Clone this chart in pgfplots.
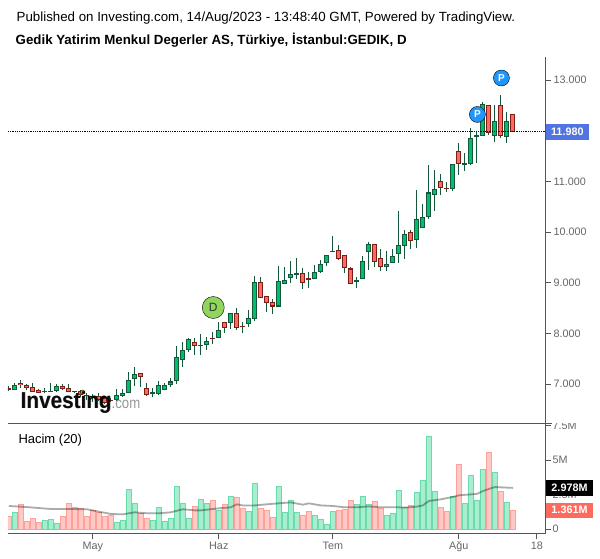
\documentclass[border=0pt]{standalone}
\usepackage{pgfplots}
\usepackage{pgfplotstable}
\usepackage{fontspec}
\setmainfont{Liberation Sans}
\pgfplotsset{compat=1.18}
\definecolor{upfill}{HTML}{00BF6C}
\definecolor{upedge}{HTML}{14573A}
\definecolor{dnfill}{HTML}{FF6A5E}
\definecolor{dnedge}{HTML}{7A1E16}
\definecolor{axisgr}{HTML}{555555}
\definecolor{labgr}{HTML}{666666}
\definecolor{vgfill}{HTML}{A8EDCD}
\definecolor{vgedge}{HTML}{6ADCAC}
\definecolor{vrfill}{HTML}{FFC9C6}
\definecolor{vredge}{HTML}{FFA09A}
\definecolor{dgreen}{HTML}{8FD65C}
\definecolor{pblue}{HTML}{1E96FC}
\definecolor{lastblue}{HTML}{5274E0}
\definecolor{earn}{HTML}{F5A623}
\pgfplotstableread{
i h t b l
1 7.03 6.98 6.89 6.88
6 6.92 6.86 6.84 6.82
7 7.02 6.87 6.85 6.84
8 7.00 6.96 6.87 6.85
18 6.90 6.78 6.68 6.67
19 6.90 6.82 6.77 6.75
20 7.23 7.07 6.82 6.82
21 7.33 7.19 7.09 6.97
24 6.93 6.84 6.80 6.75
25 7.05 6.98 6.80 6.78
26 7.03 6.98 6.89 6.88
27 7.12 7.05 6.99 6.95
28 7.75 7.53 7.05 7.00
29 7.83 7.67 7.48 7.34
30 7.91 7.88 7.68 7.64
32 7.99 7.78 7.76 7.57
33 7.93 7.84 7.77 7.68
35 8.22 8.06 7.91 7.90
37 8.40 8.40 8.21 8.09
40 8.46 8.30 8.19 8.13
41 9.13 9.01 8.29 8.24
45 9.33 9.03 8.53 8.53
46 9.31 9.05 8.98 8.98
47 9.43 9.17 9.10 9.00
48 9.49 9.19 9.16 9.07
51 9.35 9.22 9.07 9.07
52 9.45 9.36 9.22 9.19
53 9.55 9.54 9.39 9.33
54 9.92 9.63 9.61 9.61
58 9.11 9.05 9.02 8.90
59 9.53 9.42 9.08 9.08
60 9.80 9.76 9.61 9.26
63 9.63 9.36 9.30 9.23
64 9.67 9.52 9.39 9.39
65 10.42 9.74 9.57 9.39
66 10.04 9.97 9.73 9.47
68 10.83 10.25 9.85 9.69
69 10.55 10.29 10.07 10.07
70 11.32 10.78 10.30 10.26
71 11.22 10.84 10.73 10.41
74 11.34 11.34 10.84 10.81
76 11.56 11.36 11.33 11.21
77 12.05 11.85 11.35 11.33
78 12.00 11.91 11.87 11.37
79 12.57 12.52 11.90 11.90
81 12.50 12.20 11.90 11.78
83 12.37 12.20 11.88 11.76
}\upcandles
\pgfplotstableread{
i h t b l
0 6.97 6.92 6.88 6.87
2 7.07 7.03 6.98 6.93
3 7.01 6.98 6.93 6.88
4 7.03 6.94 6.85 6.85
5 6.91 6.88 6.83 6.82
9 7.01 6.96 6.91 6.88
10 7.00 6.92 6.85 6.84
11 6.86 6.86 6.84 6.82
12 6.88 6.86 6.78 6.75
13 6.82 6.78 6.76 6.69
14 6.80 6.76 6.74 6.65
15 6.82 6.77 6.69 6.67
16 6.76 6.72 6.62 6.61
17 6.73 6.69 6.67 6.65
22 7.22 7.21 7.13 6.95
23 7.03 6.92 6.78 6.77
31 7.90 7.82 7.76 7.57
34 8.03 7.90 7.88 7.79
36 8.22 8.22 8.11 8.01
38 8.50 8.40 8.11 8.07
39 8.22 8.15 8.13 8.01
42 9.11 9.01 8.69 8.69
43 8.73 8.73 8.60 8.42
44 8.68 8.61 8.53 8.38
49 9.29 9.19 9.00 8.88
50 9.21 9.10 9.06 8.90
55 9.74 9.64 9.47 9.45
56 9.54 9.54 9.28 9.19
57 9.30 9.28 8.98 8.98
61 9.76 9.76 9.41 9.30
62 9.67 9.48 9.30 9.24
67 10.04 10.01 9.83 9.66
72 11.14 11.00 10.86 10.73
73 10.99 10.87 10.84 10.79
75 11.76 11.59 11.35 11.13
80 12.50 12.50 11.95 11.92
82 12.70 12.50 11.90 11.86
84 12.32 12.32 11.98 11.98
}\dncandles
\pgfplotstableread{
i v
1 1.21
6 0.63
7 0.70
8 0.41
18 0.48
19 0.63
20 2.87
21 1.86
24 0.63
25 1.57
26 0.56
27 0.77
28 3.09
29 1.86
30 0.77
32 2.15
33 1.86
35 1.35
37 2.37
40 1.28
41 3.31
45 3.09
46 1.21
47 2.08
48 1.21
51 0.99
52 0.70
53 0.34
54 1.28
58 1.79
59 2.37
60 1.79
63 0.99
64 1.14
65 2.80
66 1.57
68 2.66
69 3.53
70 6.71
71 2.73
74 2.37
76 1.86
77 3.89
78 2.08
79 4.32
81 4.11
83 1.93
}\upvol
\pgfplotstableread{
i v
0 0.87
2 1.79
3 0.56
4 0.77
5 0.48
9 0.92
10 1.86
11 1.57
12 1.50
13 0.92
14 1.35
15 1.21
16 0.92
17 0.99
22 1.14
23 0.77
31 1.64
34 2.08
36 1.79
38 2.29
39 1.50
42 1.50
43 1.35
44 0.85
49 0.99
50 1.28
55 1.35
56 1.43
57 2.08
61 2.00
62 1.50
67 1.71
72 1.57
73 1.28
75 4.69
80 5.56
82 2.73
84 1.36
}\dnvol
\pgfplotstableread{
i v
0 1.67
3 1.59
5 1.52
7 1.45
10 1.45
13 1.43
15 1.26
17 1.09
19 1.06
20 1.14
21 1.21
23 1.14
25 1.14
27 1.21
29 1.43
31 1.35
32 1.35
35 1.50
37 1.57
38 1.79
39 1.71
41 1.71
43 1.79
45 1.86
47 1.93
49 1.76
50 1.86
52 1.71
54 1.67
56 1.57
58 1.57
60 1.64
62 1.57
65 1.57
66 1.55
68 1.62
69 1.71
70 2.03
72 2.15
74 2.32
75 2.44
77 2.51
78 2.54
79 2.75
80 2.90
81 3.04
84 2.98
}\smavol
\newcommand\wicks[1]{%
\addplot[draw=none, mark=none, forget plot, error bars/.cd, y dir=plus, y explicit, error mark=none,
  error bar style={draw=upedge, line width=1pt}]
  table[x=i, y=l, y error plus expr={\thisrow{h}-\thisrow{l}}] {#1};}
\newcommand\bodies[3]{%
\addplot[draw=none, mark=none, forget plot, error bars/.cd, y dir=plus, y explicit, error mark=none,
  error bar style={draw=#3, line width=5.2pt}]
  table[x=i, y=b, y error plus expr={\thisrow{t}-\thisrow{b}}] {#1};
\addplot[draw=none, mark=none, forget plot, error bars/.cd, y dir=plus, y explicit, error mark=none,
  error bar style={draw=#2, line width=3.2pt}]
  table[x=i, y expr={\thisrow{b}+0.02}, y error plus expr={max(\thisrow{t}-\thisrow{b}-0.04,0)}] {#1};}
\begin{document}
\begin{tikzpicture}[x=1pt,y=1pt]
\fill[white] (0,0) rectangle (600,558);
\node[anchor=base west, inner sep=0pt, text=black] at (16.5,536.3) {\fontsize{13.3}{15}\selectfont Published on Investing.com, 14/Aug/2023 - 13:48:40 GMT, Powered by TradingView.};
\node[anchor=base west, inner sep=0pt, text=black] at (15.5,513.7) {\fontsize{13.3}{15}\selectfont\bfseries Gedik Yatirim Menkul Degerler AS, Türkiye, İstanbul:GEDIK, D};
% price pane
\begin{axis}[at={(8pt,134.7pt)}, anchor=south west, scale only axis, width=537.5pt, height=366.3pt,
  xmin=-0.133, xmax=89.45, ymin=6.225, ymax=13.454,
  axis line style={draw=none}, xtick=\empty,
  ytick={7,8,9,10,11,12,13}, yticklabels={7.000,8.000,9.000,10.000,11.000,,13.000},
  ytick pos=right, yticklabel pos=right, tick align=outside, major tick length=5pt,
  tick style={draw=axisgr, line width=1pt},
  yticklabel style={font=\fontsize{10.8}{13}\selectfont, text=labgr, inner sep=0pt, xshift=3pt}]
\wicks{\upcandles}
\wicks{\dncandles}
\bodies{\upcandles}{upfill}{upedge}
\bodies{\dncandles}{dnfill}{dnedge}
\addplot[only marks, mark=*, mark size=2.2pt, forget plot, mark options={fill=earn, draw=none}] coordinates {(12.3,6.84)};
\addplot[forget plot, draw=blue!40!black, line width=0.8pt, densely dotted] coordinates {(-0.133,11.98) (89.45,11.98)};
\addplot[only marks, mark=*, mark size=11pt, forget plot, mark options={fill=dgreen, draw=none},
  nodes near coords={D}, every node near coord/.append style={anchor=center, inner sep=0pt, font=\fontsize{12}{14}\selectfont, text=black!80}] coordinates {(34.08,8.51)};
\addplot[only marks, mark=*, mark size=8pt, forget plot, mark options={fill=pblue, draw=none},
  nodes near coords={P}, every node near coord/.append style={anchor=center, inner sep=0pt, font=\fontsize{10}{12}\selectfont\bfseries, text=white}] coordinates {(78.1,12.32) (82.1,13.04)};
\end{axis}
% volume pane
\begin{axis}[at={(8pt,24.2pt)}, anchor=south west, scale only axis, width=537.5pt, height=110.5pt,
  xmin=-0.133, xmax=89.45, ymin=-0.348, ymax=7.66,
  axis line style={draw=none},
  xtick={14,35,54,75,88}, xticklabels={May,Haz,Tem,Ağu,18},
  xtick pos=bottom, xticklabel pos=bottom,
  ytick={0,2.5,5,7.5}, yticklabels={0,2.5M,5M,7.5M},
  ytick pos=right, yticklabel pos=right, tick align=outside, major tick length=5pt,
  tick style={draw=axisgr, line width=1pt},
  xticklabel style={font=\fontsize{10.8}{13}\selectfont, text=labgr, inner sep=0pt, yshift=-3pt},
  yticklabel style={font=\fontsize{10.8}{13}\selectfont, text=labgr, inner sep=0pt, xshift=2pt}]
\addplot[ybar, bar width=5pt, bar shift=0pt, fill=vgfill, draw=vgedge, line width=1pt, forget plot] table[x=i,y=v] {\upvol};
\addplot[ybar, bar width=5pt, bar shift=0pt, fill=vrfill, draw=vredge, line width=1pt, forget plot] table[x=i,y=v] {\dnvol};
\addplot[forget plot, draw=black, opacity=0.33, line width=1.8pt] table[x=i,y=v] {\smavol};
\end{axis}
% logo
\node[anchor=base west, inner sep=0pt, opacity=0.5, text=black] at (21,149.6) {\scalebox{0.9}[1]{\fontsize{23}{26}\selectfont\bfseries Investing}};
\node[anchor=base west, inner sep=0pt, opacity=0.9, text=black] at (20.5,150) {\scalebox{0.9}[1]{\fontsize{23}{26}\selectfont\bfseries Investing}};
\node[anchor=base west, inner sep=0pt, opacity=0.9, text=black!45] at (111.5,150) {\scalebox{0.85}[1]{\fontsize{15.5}{18}\selectfont .com}};
% pane lines
\fill[white] (551,135) rectangle (600,145.5);
\draw[axisgr, line width=1pt] (8,134.7) -- (552,134.7);
\draw[axisgr, line width=1pt] (8,24.2) -- (545.7,24.2);
\draw[axisgr, line width=1pt] (545.7,24.2) -- (545.7,501);
% pane label
\node[anchor=base west, inner sep=0pt, text=black] at (18.3,114.7) {\fontsize{13}{15}\selectfont Hacim (20)};
% value boxes
\fill[lastblue] (545.5,418) rectangle (589,434);
\node[anchor=center, inner sep=0pt, text=white] at (567.3,426) {\fontsize{10.8}{13}\selectfont\bfseries 11.980};
\fill[black] (545.5,62.3) rectangle (593,78);
\node[anchor=center, inner sep=0pt, text=white] at (569.5,70.2) {\fontsize{10.8}{13}\selectfont\bfseries 2.978M};
\fill[dnfill] (545.5,40.3) rectangle (593,55.3);
\node[anchor=center, inner sep=0pt, text=white] at (569.5,47.8) {\fontsize{10.8}{13}\selectfont\bfseries 1.361M};
\end{tikzpicture}
\end{document}
